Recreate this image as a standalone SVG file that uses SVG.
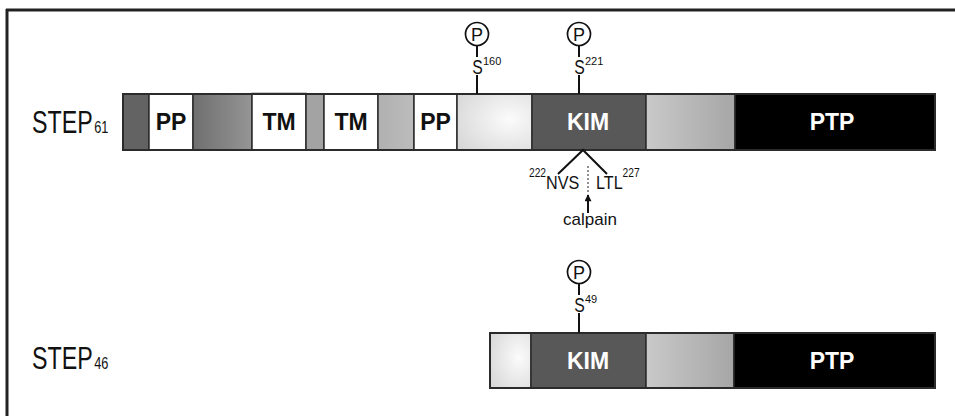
<svg xmlns="http://www.w3.org/2000/svg" width="955" height="416" viewBox="0 0 955 416">
  <defs>
    <linearGradient id="gMid" x1="0" y1="0" x2="1" y2="0">
      <stop offset="0" stop-color="#6f6f6f"/>
      <stop offset="1" stop-color="#959595"/>
    </linearGradient>
    <linearGradient id="gLight" x1="0" y1="0" x2="1" y2="0">
      <stop offset="0" stop-color="#b0b0b0"/>
      <stop offset="1" stop-color="#bcbcbc"/>
    </linearGradient>
    <radialGradient id="gPale" cx="0.7" cy="0.45" r="0.8">
      <stop offset="0" stop-color="#fbfbfb"/>
      <stop offset="1" stop-color="#d8d8d8"/>
    </radialGradient>
    <linearGradient id="gFade" x1="0" y1="0" x2="1" y2="0">
      <stop offset="0" stop-color="#c9c9c9"/>
      <stop offset="1" stop-color="#a6a6a6"/>
    </linearGradient>
    <marker id="arrowHead" viewBox="0 0 10 10" refX="9" refY="5" markerWidth="9" markerHeight="7" orient="auto" markerUnits="userSpaceOnUse">
      <path d="M0,0 L10,5 L0,10 Z" fill="#111"/>
    </marker>
  </defs>
  <style>
    .seg { stroke: #2b2b2b; stroke-width: 1.5; }
    .bar { fill: none; stroke: #2b2b2b; stroke-width: 2; }
    .lbl { font-family: "Liberation Sans", Arial, sans-serif; font-weight: bold; font-size: 23px; text-anchor: middle; }
    .dark { fill: #111; }
    .light { fill: #fff; }
    .name { font-family: "Liberation Sans", Arial, sans-serif; font-size: 31px; fill: #111; }
    .txt { font-family: "Liberation Sans", Arial, sans-serif; fill: #111; }
    .sup { font-family: "Liberation Sans", Arial, sans-serif; font-size: 11px; fill: #111; }
    .ln { stroke: #111; stroke-width: 2; fill: none; }
    .pc { fill: #fff; stroke: #111; stroke-width: 1.7; }
  </style>

  <!-- frame -->
  <g id="frame">
    <line x1="6" y1="10" x2="955" y2="10" stroke="#222" stroke-width="3"/>
    <line x1="7" y1="9" x2="7" y2="416" stroke="#222" stroke-width="3"/>
  </g>

  <!-- STEP61 isoform -->
  <g id="step61">
    <text class="name" transform="translate(32 133) scale(0.75 1)">STEP<tspan font-size="17" dx="2">61</tspan></text>
    <g id="step61-n1"><rect class="seg" x="123" y="94" width="26" height="56" fill="#636363"/></g>
    <g id="step61-pp1"><rect class="seg" x="149" y="94" width="44" height="56" fill="#fff"/><text class="lbl dark" x="171" y="130">PP</text></g>
    <g id="step61-m1"><rect class="seg" x="193" y="94" width="59" height="56" fill="url(#gMid)"/></g>
    <g id="step61-tm1"><rect class="seg" x="252" y="93.5" width="54" height="56.5" fill="#fff"/><text class="lbl dark" x="279" y="130">TM</text></g>
    <g id="step61-m2"><rect class="seg" x="306" y="94" width="18" height="56" fill="#a3a3a3"/></g>
    <g id="step61-tm2"><rect class="seg" x="324" y="94" width="54" height="56" fill="#fff"/><text class="lbl dark" x="351" y="130">TM</text></g>
    <g id="step61-m3"><rect class="seg" x="378" y="94" width="36" height="56" fill="url(#gLight)"/></g>
    <g id="step61-pp2"><rect class="seg" x="414" y="94" width="43" height="56" fill="#fff"/><text class="lbl dark" x="435.5" y="130">PP</text></g>
    <g id="step61-kis"><rect class="seg" x="457" y="94" width="75" height="56" fill="url(#gPale)"/></g>
    <g id="step61-kim"><rect class="seg" x="532" y="94" width="114" height="56" fill="#585858"/><text class="lbl light" x="588" y="130">KIM</text></g>
    <g id="step61-link"><rect class="seg" x="646" y="94" width="89" height="56" fill="url(#gFade)"/></g>
    <g id="step61-ptp"><rect class="seg" x="735" y="94" width="200" height="56" fill="#000"/><text class="lbl light" x="832" y="130">PTP</text></g>
    <rect class="bar" x="123" y="94" width="812" height="56"/>
  </g>

  <!-- phospho sites on STEP61 -->
  <g id="p-s160">
    <circle class="pc" cx="477" cy="34" r="11.5"/>
    <text class="txt" x="477" y="40.5" font-size="18" text-anchor="middle">P</text>
    <text class="txt" x="477.5" y="74" font-size="21" text-anchor="middle" transform="translate(119.4 0) scale(0.75 1)">S</text>
    <text class="sup" x="483" y="65">160</text>
  </g>
  <g id="p-s221">
    <circle class="pc" cx="579" cy="34" r="11.5"/>
    <text class="txt" x="579" y="40.5" font-size="18" text-anchor="middle">P</text>
    <text class="txt" x="579.5" y="74" font-size="21" text-anchor="middle" transform="translate(144.9 0) scale(0.75 1)">S</text>
    <text class="sup" x="585" y="65">221</text>
  </g>

  <!-- calpain cleavage site -->
  <g id="calpain-site">
    <text class="txt" font-size="19" transform="translate(529 189) scale(0.85 1)"><tspan font-size="12" dy="-12">222</tspan><tspan dy="12">NVS</tspan></text>
    <text class="txt" font-size="19" transform="translate(596 189) scale(0.85 1)">LTL<tspan font-size="12" dy="-12">227</tspan></text>
    <text class="txt" x="590" y="225" font-size="17" text-anchor="middle">calpain</text>
  </g>

  <!-- STEP46 isoform -->
  <g id="step46">
    <text class="name" transform="translate(32 369) scale(0.75 1)">STEP<tspan font-size="17" dx="2">46</tspan></text>
    <g id="step46-kis"><rect class="seg" x="490" y="333" width="41" height="55" fill="url(#gPale)"/></g>
    <g id="step46-kim"><rect class="seg" x="531" y="333" width="115" height="55" fill="#585858"/><text class="lbl light" x="588" y="369">KIM</text></g>
    <g id="step46-link"><rect class="seg" x="646" y="333" width="88" height="55" fill="url(#gFade)"/></g>
    <g id="step46-ptp"><rect class="seg" x="734" y="333" width="201" height="55" fill="#000"/><text class="lbl light" x="832" y="369">PTP</text></g>
    <rect class="bar" x="490" y="333" width="445" height="55"/>
  </g>

  <g id="p-s49">
    <circle class="pc" cx="579" cy="272" r="11.5"/>
    <text class="txt" x="579" y="278.5" font-size="18" text-anchor="middle">P</text>
    <text class="txt" x="579.5" y="312" font-size="21" text-anchor="middle" transform="translate(144.9 0) scale(0.75 1)">S</text>
    <text class="sup" x="585" y="303">49</text>
  </g>

  <!-- connectors -->
  <g id="connectors">
    <line class="ln" x1="477" y1="45.5" x2="477" y2="57"/>
    <line class="ln" x1="477" y1="75" x2="477" y2="94"/>
    <line class="ln" x1="579" y1="45.5" x2="579" y2="57"/>
    <line class="ln" x1="579" y1="75" x2="579" y2="94"/>
    <line class="ln" x1="579" y1="283.5" x2="579" y2="295"/>
    <line class="ln" x1="579" y1="313" x2="579" y2="333"/>
    <polyline class="ln" points="558,174 583,150 607,174"/>
    <line x1="588" y1="166" x2="588" y2="192" stroke="#555" stroke-width="1.3" stroke-dasharray="2,2"/>
    <line x1="588" y1="213" x2="588" y2="195" stroke="#111" stroke-width="2" marker-end="url(#arrowHead)"/>
  </g>
</svg>
